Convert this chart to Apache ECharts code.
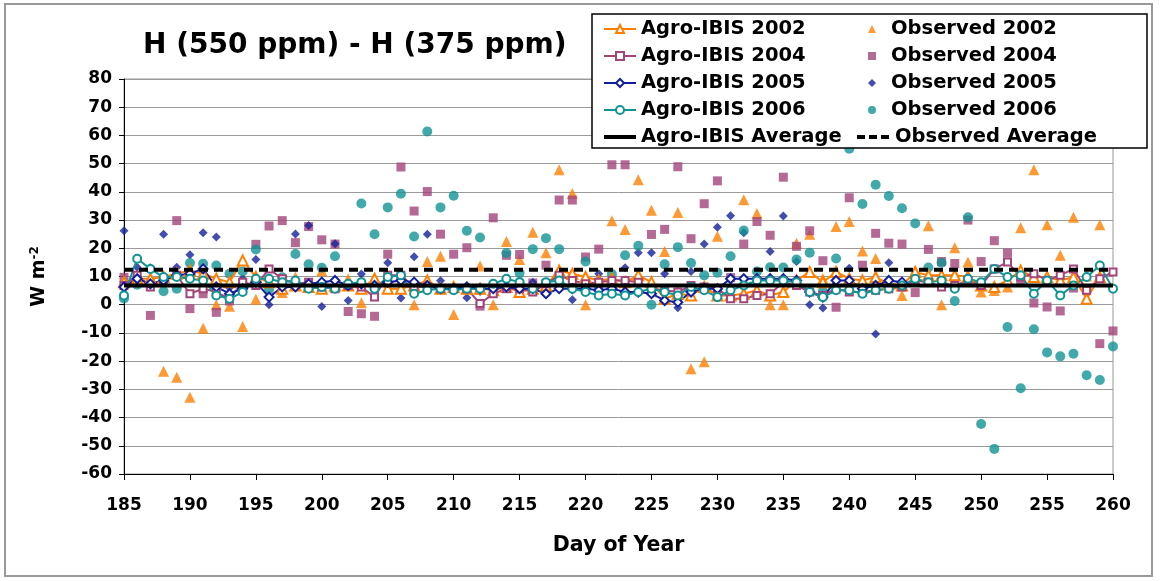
<!DOCTYPE html>
<html><head><meta charset="utf-8">
<script src="https://cdn.jsdelivr.net/npm/echarts@6/dist/echarts.min.js"></script>
<style>html,body{margin:0;padding:0;background:#fff}#c{width:1160px;height:581px}</style>
</head><body><div id="c"></div>
<script>
const days = [185,186,187,188,189,190,191,192,193,194,195,196,197,198,199,200,201,202,203,204,205,206,207,208,209,210,211,212,213,214,215,216,217,218,219,220,221,222,223,224,225,226,227,228,229,230,231,232,233,234,235,236,237,238,239,240,241,242,243,244,245,246,247,248,249,250,251,252,253,254,255,256,257,258,259,260];

const agro2002 = [8.0,9.2,9.2,9.8,11.0,12.1,11.0,9.2,8.0,15.7,
  9.8,8.0,5.7,6.8,6.3,5.7,6.8,6.8,5.7,9.2,
  5.7,5.7,6.8,8.6,5.7,6.3,5.7,5.7,5.1,6.3,
  4.5,5.7,6.8,12.1,11.0,9.8,8.6,9.2,8.0,10.4,
  8.0,2.1,3.9,3.3,6.3,3.3,3.3,3.9,5.1,3.3,
  4.5,8.6,11.6,8.0,11.6,9.2,8.6,9.8,7.4,6.8,
  11.6,10.4,10.4,10.4,10.0,6.8,6.3,8.6,12.1,9.8,
  9.8,8.6,9.8,2.1,9.8,null];
const agro2004 = [6.8,10.4,6.3,9.2,10.4,3.9,5.7,4.5,2.1,8.0,
  6.8,12.7,9.2,7.4,8.0,6.3,5.7,6.8,6.3,2.7,
  10.4,10.4,6.3,6.3,5.7,5.7,5.7,0.4,3.9,5.7,
  5.7,4.5,7.4,10.4,8.6,7.4,8.0,8.6,8.6,8.0,
  5.7,5.1,4.5,6.8,6.3,5.7,2.1,2.1,3.3,3.9,
  8.0,6.8,4.5,3.3,5.7,4.5,4.5,5.1,5.7,6.3,
  8.6,8.0,6.3,6.8,8.6,6.8,12.7,15.1,9.8,11.0,
  8.6,10.4,12.7,5.1,9.2,11.6];
const agro2005 = [6.3,9.2,7.4,8.6,10.4,11.0,12.7,6.3,3.9,5.7,
  8.0,2.7,6.3,6.3,7.4,8.0,8.6,6.8,7.4,6.8,
  8.0,8.6,8.0,6.8,5.7,5.7,6.3,5.7,5.7,6.3,
  5.7,5.7,3.9,5.7,5.7,5.7,5.1,5.7,4.5,4.5,
  3.9,1.5,0.9,4.5,5.7,5.7,9.2,9.2,9.2,9.2,
  9.2,8.6,4.5,2.7,8.6,8.6,5.7,6.8,8.6,8.0,
  null,null,null,null,null,null,null,null,null,null,
  null,null,null,null,null,null];
const agro2006 = [3.3,16.3,12.7,9.8,9.8,9.2,8.6,3.3,2.1,4.5,
  9.2,9.2,8.0,8.6,5.7,6.3,5.7,7.4,8.0,5.7,
  9.8,10.4,3.9,5.1,5.7,5.1,5.7,5.7,7.4,9.2,
  8.0,5.7,8.0,8.6,5.7,4.5,3.3,3.9,3.3,4.5,
  5.7,4.5,3.3,6.3,5.1,2.7,5.1,6.8,8.6,8.6,
  8.6,8.0,4.5,2.7,5.1,5.1,3.9,5.1,5.7,6.8,
  9.2,8.0,8.6,5.7,9.2,8.0,12.7,9.8,10.4,3.9,
  8.6,3.3,6.8,9.8,13.9,5.7];

const obs2002 = [null,null,null,-23.6,-25.7,-32.8,-8.3,0,-0.5,-7.7,
  1.9,null,4.3,9.8,7.1,12,6.3,9.2,0.7,9.6,
  9.8,8.6,0,15.3,17.2,-3.5,6.3,13.7,0,22.4,
  16,25.7,18.4,47.8,39.4,0,9.2,29.8,26.7,44.3,
  33.5,18.9,32.7,-22.7,-20.2,24.3,null,37.2,32.3,0,
  0,21.8,25,9.3,27.7,29.5,19,16.4,8,3.3,
  12,28,0,20.2,15.1,4.5,5,6.3,27.3,47.8,
  28.3,17.5,31,10.2,28.3,null];
const obs2004 = [9.7,null,-3.8,8.4,29.8,-1.4,3.9,-2.7,1.3,7.7,
  21.4,27.9,29.8,22,27.7,23,21.5,-2.4,-3.2,-4.1,
  17.9,48.8,33.2,40.1,25,17.9,20.2,-0.5,30.8,17.5,
  17.8,7.7,14,37.1,37.1,16.9,19.7,49.6,49.6,null,
  24.9,26.7,48.9,23.4,35.8,43.9,9.6,21.5,29.5,24.6,
  45.2,20.7,26.2,15.6,-0.9,37.9,14,25.3,21.8,21.5,
  4.3,19.6,15.3,14.6,30,15.3,22.7,18.3,8.6,0.6,
  -0.8,-2.2,5.9,5.3,-13.8,-9.3];
const obs2005 = [26.2,13.3,13.1,25,13.3,17.7,25.5,24,6,9.2,
  16,0,6.3,25.1,28.1,-0.6,21.6,1.5,10.9,6.3,
  14.9,2.4,17,25,8.5,5.9,2.5,4.7,4.3,6,
  8.3,8,3.5,8.4,1.8,5.9,11,5,13.1,18.4,
  18.4,11,-1.1,11.8,21.5,27.5,31.5,25.5,9,18.9,
  31.4,15.3,0,-1.2,6.5,12.9,5,-10.4,14.9,null,
  null,null,null,null,null,null,null,null,null,null,
  null,null,null,null,null,null];
const obs2006 = [2.2,7.1,8,4.8,5.7,14.8,14.5,13.9,11,11.8,
  19.6,5.5,9.7,18,14.3,13.1,17.2,6.8,35.9,25,
  34.5,39.3,24.2,61.4,34.5,38.6,26.2,23.8,6,18.3,
  11.2,19.7,23.6,19.7,9.8,15.3,6.6,10.9,17.5,20.9,
  0,14.3,20.4,14.8,10.4,11.3,17.2,26.3,11.8,13.3,
  13.2,16,18.4,4.8,16.4,55.3,35.7,42.5,38.5,34.2,
  28.8,13.2,14.9,1.3,31,-42.3,-51.1,-7.9,-29.6,-8.7,
  -16.9,-18.3,-17.4,-25,-26.7,-14.8];

const avgDays = [185, 260];
const agroAverage = [6.8, 6.8];
const observedAverage = [12.4, 12.4];

const modelNames = ['Agro-IBIS 2002','Agro-IBIS 2004','Agro-IBIS 2005','Agro-IBIS 2006','Agro-IBIS Average'];
const obsNames = ['Observed 2002','Observed 2004','Observed 2005','Observed 2006','Observed Average'];
const titleText = 'H (550 ppm) - H (375 ppm)';
const xTitle = 'Day of Year';

const FONT = '"DejaVu Sans", Verdana, sans-serif';
const C2002 = '#FF7F00', C2004 = '#A3457B', C2005 = '#14209A', C2006 = '#129494';

function linePairs(arr, xs){ xs = xs || days; return xs.map((d,i)=>[d, arr[i]==null ? '-' : arr[i]]); }
function scatPairs(arr){ return days.map((d,i)=>[d, arr[i]]).filter(p=>p[1]!=null); }

function scat(name, arr, color, symbol, size){
  return {name, type:'scatter', data:scatPairs(arr), symbol, symbolSize:size,
    itemStyle:{color}, z:2, silent:true};
}
function modelLine(name, arr, color, symbol, size){
  return {name, type:'line', data:linePairs(arr), symbol, symbolSize:size, showSymbol:true,
    lineStyle:{color, width:2}, itemStyle:{color, borderColor:color, borderWidth:1}, z:3, silent:true, animation:false};
}

const LEG_TEXT = {fontFamily:FONT, fontSize:19.5, fontWeight:'bold', color:'#000', lineHeight:20};

const chart = echarts.init(document.getElementById('c'), null, {renderer:'canvas'});
chart.setOption({
  animation:false,
  backgroundColor:'#fff',
  textStyle:{fontFamily:FONT},
  title:{text:titleText, left:138, top:27, textStyle:{fontFamily:FONT, fontSize:28, fontWeight:'bold', color:'#000'}},
  grid:{left:124, right:47, top:79, bottom:107, show:true, borderColor:'#999', borderWidth:1},
  xAxis:{type:'value', min:185, max:260, interval:5,
    axisLine:{onZero:false, lineStyle:{color:'#000', width:1}},
    axisTick:{show:true, length:6, lineStyle:{color:'#000'}},
    axisLabel:{fontFamily:FONT, fontSize:17, fontWeight:'bold', color:'#000', margin:23},
    splitLine:{show:false},
    name:xTitle, nameLocation:'middle', nameGap:61,
    nameTextStyle:{fontFamily:FONT, fontSize:20.5, fontWeight:'bold', color:'#000'}},
  yAxis:{type:'value', min:-60, max:80, interval:10,
    axisLine:{show:true, lineStyle:{color:'#000', width:1}},
    axisTick:{show:true, length:5, lineStyle:{color:'#000'}},
    axisLabel:{fontFamily:FONT, fontSize:17, fontWeight:'bold', color:'#000', margin:12},
    splitLine:{show:true, lineStyle:{color:'#9a9a9a', width:1}},
    name:'{a|W m}{s|-2}', nameLocation:'middle', nameGap:74,
    nameTextStyle:{rich:{a:{fontFamily:FONT, fontSize:19, fontWeight:'bold', color:'#000'},
      s:{fontFamily:FONT, fontSize:12, fontWeight:'bold', color:'#000', padding:[0,0,9,0]}}}},
  legend:[
    {data:[modelNames[0],modelNames[1],modelNames[2],modelNames[3],
        {name:modelNames[4], itemStyle:{opacity:0}, lineStyle:{color:'#000', width:4, opacity:1}}],
      orient:'vertical', left:602, top:19, padding:0, itemGap:7, itemWidth:32, itemHeight:10, z:20,
      textStyle:LEG_TEXT, selectedMode:false},
    {data:obsNames.slice(0,4), orient:'vertical', left:868, top:19, padding:0, itemGap:7, itemWidth:8, itemHeight:8, z:20,
      textStyle:Object.assign({}, LEG_TEXT, {padding:[0,0,0,10]}), selectedMode:false},
    {data:[{name:obsNames[4], itemStyle:{opacity:0}, lineStyle:{color:'#000', width:4, type:[8,4], opacity:1}}],
      orient:'vertical', left:855, top:127, padding:0, itemWidth:33, itemHeight:10, z:20,
      textStyle:LEG_TEXT, selectedMode:false}
  ],
  graphic:[
    {type:'rect', z:10, shape:{x:592, y:14, width:555, height:134}, style:{fill:'#fff', stroke:'#000', lineWidth:1.5}},
    {type:'rect', z:0, shape:{x:5, y:4, width:1147, height:572}, style:{fill:null, stroke:'#999', lineWidth:2}}
  ],
  series:[
    scat(obsNames[0], obs2002, C2002, 'triangle', 11),
    scat(obsNames[1], obs2004, C2004, 'rect', 9),
    scat(obsNames[2], obs2005, C2005, 'diamond', 9),
    scat(obsNames[3], obs2006, C2006, 'circle', 10),
    modelLine(modelNames[0], agro2002, C2002, 'emptyTriangle', 10),
    modelLine(modelNames[1], agro2004, C2004, 'emptyRect', 7),
    modelLine(modelNames[2], agro2005, C2005, 'emptyDiamond', 9),
    modelLine(modelNames[3], agro2006, C2006, 'emptyCircle', 8),
    {name:modelNames[4], type:'line', data:linePairs(agroAverage, avgDays), symbol:'none',
      lineStyle:{color:'#000', width:4}, itemStyle:{color:'#000'}, z:4, silent:true},
    {name:obsNames[4], type:'line', data:linePairs(observedAverage, avgDays), symbol:'none',
      lineStyle:{color:'#000', width:4, type:[9,6]}, itemStyle:{color:'#000'}, z:4, silent:true}
  ]
});
</script></body></html>
